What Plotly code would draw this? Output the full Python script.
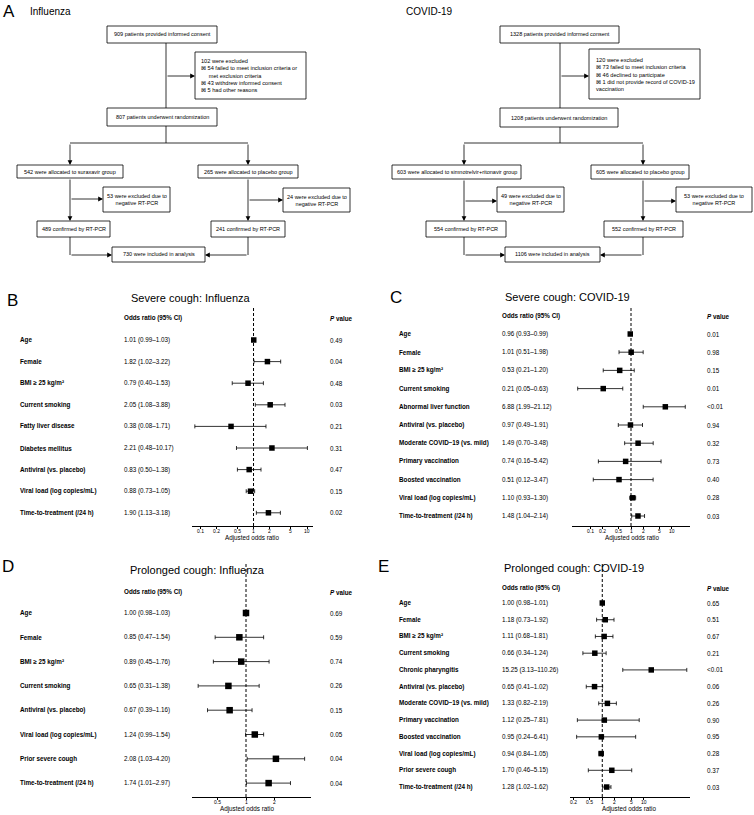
import math
import plotly.graph_objects as go

W, H = 754, 815
def px(x): return x / W
def py(y): return 1 - y / H

FONT = "Liberation Sans, Arial, sans-serif"

# ---------------- DATA ----------------
B_labels = ["Age", "Female", "BMI ≥ 25 kg/m²", "Current smoking", "Fatty liver disease",
            "Diabetes mellitus", "Antiviral (vs. placebo)", "Viral load (log copies/mL)",
            "Time-to-treatment (/24 h)"]
B_or = [1.01, 1.82, 0.79, 2.05, 0.38, 2.21, 0.83, 0.88, 1.90]
B_lo = [0.99, 1.02, 0.40, 1.08, 0.08, 0.48, 0.50, 0.73, 1.13]
B_hi = [1.03, 3.22, 1.53, 3.88, 1.71, 10.17, 1.38, 1.05, 3.18]
B_p = ["0.49", "0.04", "0.48", "0.03", "0.21", "0.31", "0.47", "0.15", "0.02"]

C_labels = ["Age", "Female", "BMI ≥ 25 kg/m²", "Current smoking", "Abnormal liver function",
            "Antiviral (vs. placebo)", "Moderate COVID−19 (vs. mild)", "Primary vaccination",
            "Boosted vaccination", "Viral load (log copies/mL)", "Time-to-treatment (/24 h)"]
C_or = [0.96, 1.01, 0.53, 0.21, 6.88, 0.97, 1.49, 0.74, 0.51, 1.10, 1.48]
C_lo = [0.93, 0.51, 0.21, 0.05, 1.99, 0.49, 0.70, 0.16, 0.12, 0.93, 1.04]
C_hi = [0.99, 1.98, 1.20, 0.63, 21.12, 1.91, 3.48, 5.42, 3.47, 1.30, 2.14]
C_p = ["0.01", "0.98", "0.15", "0.01", "<0.01", "0.94", "0.32", "0.73", "0.40", "0.28", "0.03"]

D_labels = ["Age", "Female", "BMI ≥ 25 kg/m²", "Current smoking", "Antiviral (vs. placebo)",
            "Viral load (log copies/mL)", "Prior severe cough", "Time-to-treatment (/24 h)"]
D_or = [1.00, 0.85, 0.89, 0.65, 0.67, 1.24, 2.08, 1.74]
D_lo = [0.98, 0.47, 0.45, 0.31, 0.39, 0.99, 1.03, 1.01]
D_hi = [1.03, 1.54, 1.76, 1.38, 1.16, 1.54, 4.20, 2.97]
D_p = ["0.69", "0.59", "0.74", "0.26", "0.15", "0.05", "0.04", "0.04"]

E_labels = ["Age", "Female", "BMI ≥ 25 kg/m²", "Current smoking", "Chronic pharyngitis",
            "Antiviral (vs. placebo)", "Moderate COVID−19 (vs. mild)", "Primary vaccination",
            "Boosted vaccination", "Viral load (log copies/mL)", "Prior severe cough",
            "Time-to-treatment (/24 h)"]
E_or = [1.00, 1.18, 1.11, 0.66, 15.25, 0.65, 1.33, 1.12, 0.95, 0.94, 1.70, 1.28]
E_lo = [0.98, 0.73, 0.68, 0.34, 3.13, 0.41, 0.82, 0.25, 0.24, 0.84, 0.46, 1.02]
E_hi = [1.01, 1.92, 1.81, 1.24, 110.26, 1.02, 2.19, 7.81, 6.41, 1.05, 5.15, 1.62]
E_p = ["0.65", "0.51", "0.67", "0.21", "<0.01", "0.06", "0.26", "0.90", "0.95", "0.28", "0.37", "0.03"]

ticks_BC = [0.1, 0.2, 0.5, 1, 2, 5, 10]
ticks_D = [0.5, 1, 2]
ticks_E = [0.2, 0.5, 1, 2, 5, 10]

titles = ["Severe cough: Influenza", "Severe cough: COVID-19",
          "Prolonged cough: Influenza", "Prolonged cough: COVID-19"]

# Flowchart texts
flu_texts = [
    "909 patients provided informed consent",
    "102 were excluded<br>⊠ 54 failed to meet inclusion criteria or<br>     met exclusion criteria<br>⊠ 43 withdrew informed consent<br>⊠ 5 had other reasons",
    "807 patients underwent randomization",
    "542 were allocated to suraxavir group",
    "265 were allocated to placebo group",
    "53 were excluded due to<br>negative RT-PCR",
    "24 were excluded due to<br>negative RT-PCR",
    "489 confirmed by RT-PCR",
    "241 confirmed by RT-PCR",
    "730 were included in analysis",
]
cov_texts = [
    "1328 patients provided informed consent",
    "120 were excluded<br>⊠ 73 failed to meet inclusion criteria<br>⊠ 46 declined to participate<br>⊠ 1 did not provide record of COVID-19<br>vaccination",
    "1208 patients underwent randomization",
    "603 were allocated to simnotrelvir+ritonavir group",
    "605 were allocated to placebo group",
    "49 were excluded due to<br>negative RT-PCR",
    "53 were excluded due to<br>negative RT-PCR",
    "554 confirmed by RT-PCR",
    "552 confirmed by RT-PCR",
    "1106 were included in analysis",
]

# ---------------- LAYOUT GEOMETRY (pixels) ----------------
flu_geom = [(107, 26, 217, 43), (195, 52, 306, 99), (107, 108, 217, 126),
            (17, 165, 123, 178), (198, 165, 298, 178), (103, 187, 170, 212),
            (283, 188, 350, 212), (37, 221, 110, 237), (211, 221, 285, 237),
            (112, 247, 205, 262)]
cov_geom = [(500, 26, 619, 43), (589, 49, 700, 99), (500, 108, 618, 127),
            (392, 165, 521, 179), (591, 165, 689, 179), (497, 187, 564, 212),
            (676, 187, 752, 212), (426, 221, 506, 237), (604, 221, 683, 237),
            (505, 247, 600, 262)]
flu_excl_textx = 199
cov_excl_textx = 594

shapes = []
annotations = []

def line(x0, y0, x1, y1, w=0.8):
    shapes.append(dict(type="line", xref="paper", yref="paper",
                       x0=px(x0), y0=py(y0), x1=px(x1), y1=py(y1),
                       line=dict(color="black", width=w)))

def arrow(x0, y0, x1, y1):
    annotations.append(dict(x=px(x1), y=py(y1), xref="paper", yref="paper",
                            ax=x0 - x1, ay=y0 - y1, axref="pixel", ayref="pixel",
                            text="", showarrow=True, arrowhead=2, arrowsize=1.2,
                            arrowwidth=0.8, arrowcolor="black", standoff=0))

def draw_flow(texts, geom, excl_x):
    for i, (t, g) in enumerate(zip(texts, geom)):
        x0, y0, x1, y1 = g
        shapes.append(dict(type="rect", xref="paper", yref="paper",
                           x0=px(x0), y0=py(y0), x1=px(x1), y1=py(y1),
                           line=dict(color="black", width=0.8), fillcolor="white", layer="above"))
        if i == 1:
            annotations.append(dict(x=px(excl_x), y=py((y0 + y1) / 2), xref="paper", yref="paper",
                                    text=t, showarrow=False, xanchor="left", yanchor="middle",
                                    align="left", font=dict(family=FONT, size=5.6, color="black")))
        else:
            annotations.append(dict(x=px((x0 + x1) / 2), y=py((y0 + y1) / 2), xref="paper", yref="paper",
                                    text=t, showarrow=False, xanchor="center", yanchor="middle",
                                    align="center", font=dict(family=FONT, size=5.5, color="black")))

draw_flow(flu_texts, flu_geom, flu_excl_textx)
draw_flow(cov_texts, cov_geom, cov_excl_textx)

# Influenza connectors
line(166, 43, 166, 108)
arrow(166, 76, 195, 76)
line(166, 126, 166, 143)
line(70, 143, 248, 143)
arrow(70, 143, 70, 165)
arrow(248, 143, 248, 165)
arrow(70, 178, 70, 221)
arrow(70, 199, 103, 199)
arrow(248, 178, 248, 221)
arrow(248, 200, 283, 200)
line(70, 237, 70, 255)
arrow(70, 255, 112, 255)
line(248, 237, 248, 255)
arrow(248, 255, 205, 255)

# COVID connectors
line(560, 43, 560, 108)
arrow(560, 76, 589, 76)
line(560, 127, 560, 143)
line(464, 143, 643, 143)
arrow(464, 143, 464, 165)
arrow(643, 143, 643, 165)
arrow(464, 179, 464, 221)
arrow(464, 201, 497, 201)
arrow(643, 179, 643, 221)
arrow(643, 201, 676, 201)
line(464, 237, 464, 255)
arrow(464, 255, 505, 255)
line(643, 237, 643, 255)
arrow(643, 255, 600, 255)

def text(x, y, t, size, anchor="center", bold=False):
    annotations.append(dict(x=px(x), y=py(y), xref="paper", yref="paper",
                            text=("<b>%s</b>" % t) if bold else t, showarrow=False,
                            xanchor=anchor, yanchor="middle",
                            font=dict(family=FONT, size=size, color="black")))

text(9, 11, "A", 17)
text(50, 11, "Influenza", 10)
text(429, 11, "COVID-19", 10)

# ---------------- FOREST PANELS ----------------
panels = [
    dict(letter="B", lx=12, ly=300, labels=B_labels, orv=B_or, lo=B_lo, hi=B_hi, p=B_p,
         dom=(192, 313), rng=(-1.15, 1.112), top=307, bottom=526, y0=340, dy=21.6,
         cols=(18, 122, 328), hy=318, tx=191, ty=298, ticks=ticks_BC, ms=5.5, xl=252),
    dict(letter="C", lx=396, ly=297, labels=C_labels, orv=C_or, lo=C_lo, hi=C_hi, p=C_p,
         dom=(572, 690), rng=(-1.44, 1.44), top=308, bottom=526, y0=334, dy=18.2,
         cols=(397, 500, 705), hy=316, tx=567, ty=297, ticks=ticks_BC, ms=5.5, xl=632),
    dict(letter="D", lx=8, ly=566, labels=D_labels, orv=D_or, lo=D_lo, hi=D_hi, p=D_p,
         dom=(192, 311), rng=(-0.574, 0.691), top=562, bottom=797, y0=613, dy=24.3,
         cols=(18, 122, 328), hy=592, tx=197, ty=570, ticks=ticks_D, ms=6.5, xl=247),
    dict(letter="E", lx=383, ly=566, labels=E_labels, orv=E_or, lo=E_lo, hi=E_hi, p=E_p,
         dom=(570, 690), rng=(-0.78, 2.12), top=562, bottom=797, y0=603, dy=16.73,
         cols=(397, 500, 705), hy=588, tx=574, ty=568, ticks=ticks_E, ms=5.5, xl=629),
]

fig = go.Figure()
layout_axes = {}
for k, P in enumerate(panels, start=1):
    xa = "x" if k == 1 else "x%d" % k
    ya = "y" if k == 1 else "y%d" % k
    n = len(P["labels"])
    rows = list(range(n))
    fig.add_trace(go.Scatter(
        x=P["orv"], y=rows, xaxis=xa, yaxis=ya, mode="markers",
        marker=dict(symbol="square", size=P["ms"], color="black"),
        error_x=dict(type="data", symmetric=False,
                     array=[h - o for h, o in zip(P["hi"], P["orv"])],
                     arrayminus=[o - l for o, l in zip(P["orv"], P["lo"])],
                     color="black", thickness=0.8, width=2),
        showlegend=False, hoverinfo="skip"))
    layout_axes["xaxis" if k == 1 else "xaxis%d" % k] = dict(
        domain=[px(P["dom"][0]), px(P["dom"][1])], type="log", range=list(P["rng"]),
        anchor=ya, showline=True, linecolor="black", linewidth=1, mirror=False,
        ticks="outside", ticklen=2, tickwidth=0.8, tickcolor="black",
        tickvals=P["ticks"], showticklabels=False,
        showgrid=False, zeroline=False, fixedrange=True)
    yr = [(P["bottom"] - P["y0"]) / P["dy"], (P["top"] - P["y0"]) / P["dy"]]
    layout_axes["yaxis" if k == 1 else "yaxis%d" % k] = dict(
        domain=[py(P["bottom"]), py(P["top"])], range=yr, anchor=xa,
        visible=False, showgrid=False, zeroline=False, fixedrange=True)
    # tick labels placed just under the axis line (log axis -> log10 positions)
    for t in P["ticks"]:
        annotations.append(dict(x=math.log10(t), y=py(P["bottom"] + 5), xref=xa, yref="paper",
                                text="%g" % t, showarrow=False, xanchor="center", yanchor="middle",
                                font=dict(family=FONT, size=5, color="black")))
    # reference line at OR = 1
    shapes.append(dict(type="line", xref=xa, yref=ya + " domain", x0=1, x1=1, y0=0, y1=1,
                       line=dict(color="black", width=1, dash="3px,2px")))
    # row texts
    for i in rows:
        ci = "%.2f (%.2f–%.2f)" % (P["orv"][i], P["lo"][i], P["hi"][i])
        for col, t, b in ((P["cols"][0], P["labels"][i], True),
                          (P["cols"][1], ci, False),
                          (P["cols"][2], P["p"][i], False)):
            annotations.append(dict(x=px(col), y=i, xref="paper", yref=ya,
                                    text=("<b>%s</b>" % t) if b else t, showarrow=False,
                                    xanchor="left", yanchor="middle",
                                    font=dict(family=FONT, size=6.3, color="black")))
    text(P["cols"][1], P["hy"], "Odds ratio (95% CI)", 6.3, anchor="left", bold=True)
    text(P["cols"][2], P["hy"], "<i>P</i> value", 6.3, anchor="left", bold=True)
    text(P["tx"], P["ty"], titles[k - 1], 11)
    text(P["lx"], P["ly"], P["letter"], 17)
    text(P["xl"], P["bottom"] + 12, "Adjusted odds ratio", 6.3)

fig.update_layout(
    width=W, height=H, autosize=False,
    margin=dict(l=0, r=0, t=0, b=0, pad=0),
    paper_bgcolor="white", plot_bgcolor="white",
    shapes=shapes, annotations=annotations,
    font=dict(family=FONT, color="black"),
    **layout_axes)

fig.write_html("out.html")
